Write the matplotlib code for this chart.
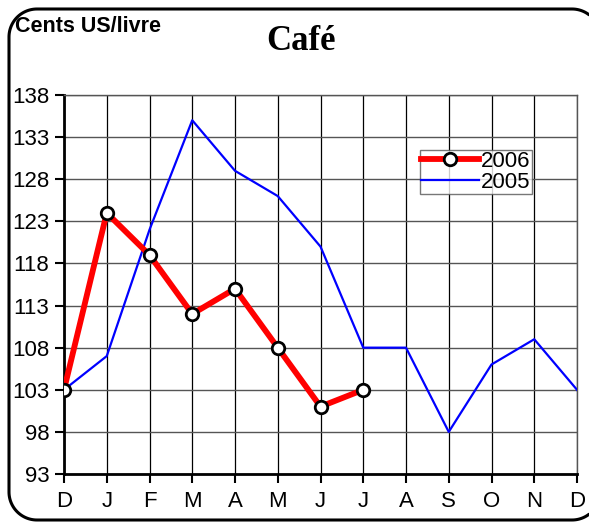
import numpy as np
import matplotlib.pyplot as plt
from matplotlib.lines import Line2D
from matplotlib.transforms import IdentityTransform

months = ['D', 'J', 'F', 'M', 'A', 'M', 'J', 'J', 'A', 'S', 'O', 'N', 'D']
prix_2005 = [103, 107, 122, 135, 129, 126, 120, 108, 108, 98, 106, 109, 103]
prix_2006 = [103, 124, 119, 112, 115, 108, 101, 103]
yticks = [93, 98, 103, 108, 113, 118, 123, 128, 133, 138]

plt.rcParams['font.family'] = ['Liberation Sans', 'DejaVu Sans']

W, H = 589, 522
fig = plt.figure(figsize=(W / 100, H / 100), dpi=100)


def rounded_frame(left, top, right, bottom, r, n=30):
    """contour d'un rectangle arrondi, en pixels (origine en haut à gauche)"""
    pts = []
    corners = [(right - r, top + r, -90, 0), (right - r, bottom - r, 0, 90),
               (left + r, bottom - r, 90, 180), (left + r, top + r, 180, 270)]
    for cx, cy, a0, a1 in corners:
        t = np.radians(np.linspace(a0, a1, n))
        pts.extend(zip(cx + r * np.cos(t), cy + r * np.sin(t)))
    pts.append(pts[0])
    return np.array(pts)


# on ne trace que les morceaux du cadre qui tombent dans la figure
pts = rounded_frame(9, 9, 600, 520, 28)
inside = pts[:, 0] <= W + 0.5
runs, cur = [], []
for p, ok in zip(pts, inside):
    if ok:
        cur.append(p)
    elif cur:
        runs.append(np.array(cur))
        cur = []
if cur:
    runs.append(np.array(cur))
if len(runs) > 1 and inside[0] and inside[-1]:
    runs = [np.vstack([runs[-1], runs[0]])] + runs[1:-1]
for run in runs:
    fig.lines.append(Line2D(run[:, 0], H - run[:, 1], color='black', linewidth=2.2,
                            transform=IdentityTransform(), solid_capstyle='round'))

ax = fig.add_axes([64 / W, 1 - 474 / H, 513 / W, 379 / H])
x05 = range(len(prix_2005))
x06 = range(len(prix_2006))

ax.plot(x06, prix_2006, color='red', linewidth=4.2, marker='o', markersize=9,
        markerfacecolor='white', markeredgecolor='black', markeredgewidth=2, zorder=4,
        label='2006')
ax.plot(x05, prix_2005, color='blue', linewidth=1.6, zorder=3, label='2005')

ax.set_xlim(0, len(months) - 1)
ax.set_ylim(93, 138)
ax.set_xticks(range(len(months)))
ax.set_xticklabels(months)
ax.set_yticks(yticks)
ax.tick_params(axis='both', labelsize=16, direction='out', length=6.5, width=1.5, pad=4)
ax.tick_params(axis='x', pad=6)

ax.grid(True, axis='x', color='black', linewidth=0.9)
ax.grid(True, axis='y', color='#555555', linewidth=1.0)
ax.set_axisbelow(True)
for side in ['top', 'right']:
    ax.spines[side].set_color('#555555')
    ax.spines[side].set_linewidth(1.0)
for side in ['left', 'bottom']:
    ax.spines[side].set_linewidth(2)

leg = ax.legend(loc='upper left', bbox_to_anchor=(0.694, 0.855), fontsize=16, frameon=True,
                fancybox=False, edgecolor='#555555', borderpad=0.05, labelspacing=0.0,
                handlelength=2.6, handletextpad=0.1, borderaxespad=0)
leg.get_frame().set_linewidth(1.0)

fig.text(15 / W, 1 - 26 / H, 'Cents US/livre', fontsize=15.5, fontweight='bold',
         ha='left', va='center')
fig.text(301 / W, 1 - 42 / H, 'Café', fontsize=25, fontweight='bold', ha='center',
         va='center', family=['Liberation Serif', 'DejaVu Serif'])

fig.savefig('out.png', dpi=100)
